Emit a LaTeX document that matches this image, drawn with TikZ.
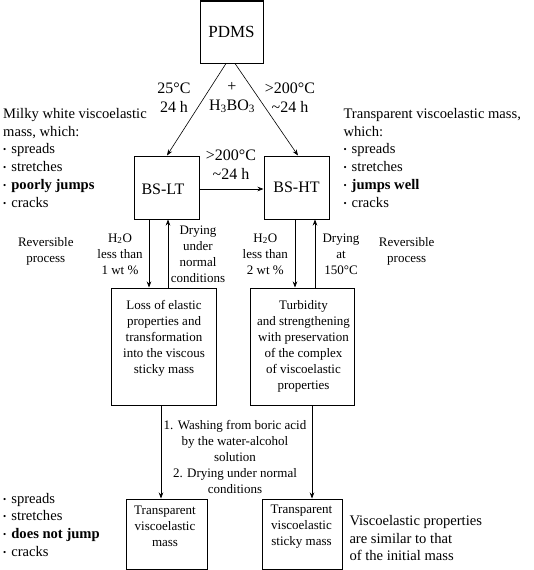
\documentclass[tikz,border=0pt]{standalone}
\usepackage{fontspec}
\setmainfont{Liberation Serif}
\usetikzlibrary{arrows.meta,calc}
\newcommand{\bul}{{\fontsize{9}{9}\selectfont\raisebox{1pt}{•}}\hspace{5pt}}
\tikzset{
 box/.style={draw, line width=1pt, inner sep=0pt},
 arr/.style={draw, line width=0.6pt, -{Stealth[length=6pt,width=4.5pt]}},
 big/.style={font=\fontsize{17}{20}\selectfont},
 mid/.style={font=\fontsize{16}{19}\selectfont, align=center, inner sep=0pt},
 txt/.style={font=\fontsize{14.6}{17.8}\selectfont, align=left, inner sep=0pt},
 sm/.style={font=\fontsize{13}{16}\selectfont, align=center, inner sep=0pt},
}
\begin{document}
\begin{tikzpicture}[x=1pt,y=-1pt]
\useasboundingbox (0,0) rectangle (533,570);
% boxes
\node[box, minimum width=63pt, minimum height=62pt, big] (pdms) at (231.5,32) {PDMS};
\node[box, minimum width=65pt, minimum height=63pt] (bslt) at (166.5,187.5) {};
\node[font=\fontsize{16}{19}\selectfont, inner sep=0pt] (bslttext) at (163,189) {BS-LT};
\node[box, minimum width=65pt, minimum height=63pt, font=\fontsize{16}{19}\selectfont] (bsht) at (296.5,187.5) {BS-HT};
\node[box, minimum width=105pt, minimum height=117pt] (loss) at (163.5,346.5) {};
\node[box, minimum width=104pt, minimum height=117pt] (turb) at (302,346.5) {};
\node[box, minimum width=81pt, minimum height=70pt] (bl) at (166.5,534) {};
\node[box, minimum width=80pt, minimum height=70pt] (br) at (302,534) {};
% box texts
\node[sm] (losstext) at (164,338) {Loss of elastic\\properties and\\transformation\\into the viscous\\sticky mass};
\node[sm] (turbtext) at (303.5,346) {Turbidity\\and strengthening\\with preservation\\of the complex\\of viscoelastic\\properties};
\node[sm] (bltext) at (165,526.3) {Transparent\\viscoelastic\\mass};
\node[sm] (brtext) at (301.5,526.3) {Transparent\\viscoelastic\\sticky mass};
% arrows
\draw[arr] ([xshift=-5.5pt]pdms.south) -- ([xshift=0.5pt]bslt.north);
\draw[arr] ([xshift=3.5pt]pdms.south) -- ([xshift=1.5pt]bsht.north);
\draw[arr] ([yshift=-1.5pt]bslt.east) -- ([yshift=-1.5pt]bsht.west);
\draw[arr] ([xshift=-17.5pt]bslt.south) -- ([xshift=-17.5pt]bslt.south |- loss.north);
\draw[arr] ([xshift=1.5pt]bslt.south |- loss.north) -- ([xshift=1.5pt]bslt.south);
\draw[arr] ([xshift=-1.5pt]bsht.south) -- ([xshift=-1.5pt]bsht.south |- turb.north);
\draw[arr] ([xshift=18.5pt]bsht.south |- turb.north) -- ([xshift=18.5pt]bsht.south);
\draw[arr] ([xshift=-2.5pt]loss.south) -- ([xshift=-2.5pt]loss.south |- bl.north);
\draw[arr] ([xshift=10pt]turb.south) -- ([xshift=10pt]turb.south |- br.north);
% upper labels
\node[mid] (l25) at (174,97.5) {25°C\\24 h};
\node[mid] (lh3) at (232,97.5) {+\\H\textsubscript{3}BO\textsubscript{3}};
\node[mid] (l200) at (290,97.5) {>200°C\\\textasciitilde24 h};
\node[mid] (lmid) at (231,165) {>200°C\\\textasciitilde24 h};
% side texts
\node[txt, anchor=west] (milky) at (3,157.8) {Milky white viscoelastic\\mass, which:\\\bul spreads\\\bul stretches\\\bul \textbf{poorly jumps}\\\bul cracks};
\node[txt, anchor=west] (transp) at (343.3,157.8) {Transparent viscoelastic mass,\\which:\\\bul spreads\\\bul stretches\\\bul \textbf{jumps well}\\\bul cracks};
% middle labels
\node[sm] (revl) at (45.8,251.7) {Reversible\\process};
\node[sm] (revr) at (406.7,251.7) {Reversible\\process};
\node[sm] (h2ol) at (120,253.8) {H\textsubscript{2}O\\less than\\1 wt \%};
\node[sm] (dryl) at (198,253.8) {Drying\\under\\normal\\conditions};
\node[sm] (h2or) at (265.3,253.8) {H\textsubscript{2}O\\less than\\2 wt \%};
\node[sm] (dryr) at (341,253.8) {Drying\\at\\150°C};
\node[sm] (wash) at (235,456.7) {1. Washing from boric acid\\by the water-alcohol\\solution\\2. Drying under normal\\conditions};
% bottom texts
\node[txt, anchor=west] (bbul) at (3,524.7) {\bul spreads\\\bul stretches\\\bul \textbf{does not jump}\\\bul cracks};
\node[txt, font=\fontsize{14.6}{17.5}\selectfont, anchor=west] (visc) at (349.3,538.2) {Viscoelastic properties\\are similar to that\\of the initial mass};
\end{tikzpicture}
\end{document}
